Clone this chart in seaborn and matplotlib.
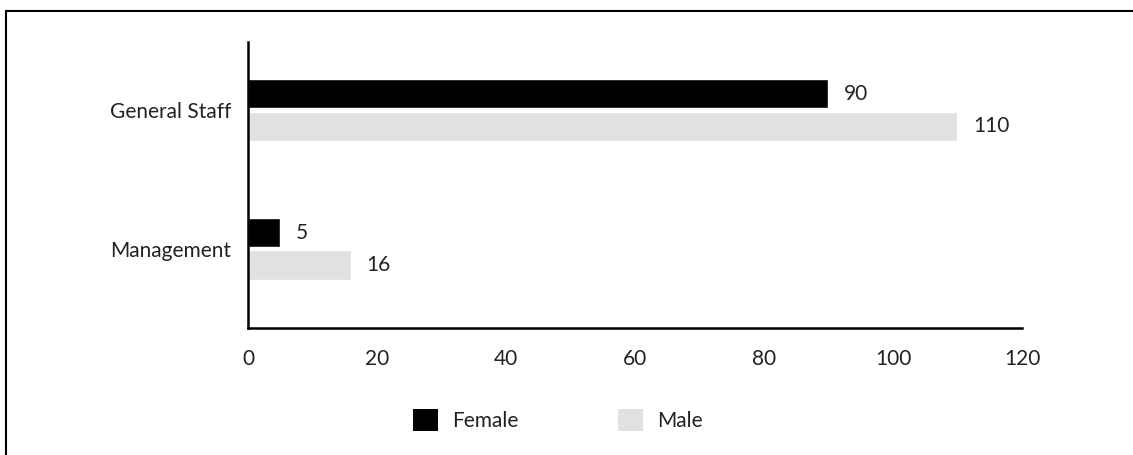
import matplotlib
matplotlib.use("Agg")
import matplotlib.pyplot as plt
from matplotlib.patches import Rectangle, Patch
import seaborn as sns
import pandas as pd

categories = ["General Staff", "Management"]
female = [90, 5]
male = [110, 16]
series = ["Female", "Male"]
x_ticks = [0, 20, 40, 60, 80, 100, 120]

df = pd.DataFrame({
    "role": categories * 2,
    "gender": ["Female"] * len(categories) + ["Male"] * len(categories),
    "count": female + male,
})

sns.set_theme(style="white")
plt.rcParams["font.family"] = ["Lato", "DejaVu Sans"]
text_color = "#222222"
palette = {"Female": "#000000", "Male": "#e0e1e3"}
fs = 15

fig = plt.figure(figsize=(11.33, 4.55), dpi=100)
ax = fig.add_axes([248 / 1133, 1 - 328 / 455, (1022 - 248) / 1133, (328 - 42) / 455])

sns.barplot(data=df, y="role", x="count", hue="gender", order=categories,
            hue_order=series, palette=palette, orient="h", width=0.47,
            gap=0.1, saturation=1, legend=False, ax=ax)

for container in ax.containers:
    ax.bar_label(container, padding=11, fontsize=fs, color=text_color)

ax.set_xlim(0, 120)
ax.set_ylim(1.57, -0.49)
ax.set_xticks(x_ticks)
ax.set_xlabel("")
ax.set_ylabel("")
ax.tick_params(axis="x", direction="in", length=8, width=1.5, color="#000000",
               labelsize=fs, labelcolor=text_color, pad=15)
ax.tick_params(axis="y", length=0, labelsize=fs, labelcolor=text_color, pad=12)
for side in ["top", "right"]:
    ax.spines[side].set_visible(False)
for side in ["left", "bottom"]:
    ax.spines[side].set_color("#000000")
    ax.spines[side].set_linewidth(1.8)

handles = [Patch(facecolor=palette[s], edgecolor="none") for s in series]
fig.legend(handles, series, loc="center", bbox_to_anchor=(558 / 1133, 1 - 420 / 455),
           ncol=2, frameon=False, fontsize=fs, handlelength=1.2, handleheight=1.2,
           handletextpad=0.7, columnspacing=4.75, labelcolor=text_color)

# outer frame around the chart
fig.patches.append(Rectangle((6 / 1133, -0.05), 1.2, 1 - 11 / 455 + 0.05,
                             transform=fig.transFigure, fill=False,
                             edgecolor="#000000", linewidth=1.5))

fig.savefig("out.png", dpi=100)
